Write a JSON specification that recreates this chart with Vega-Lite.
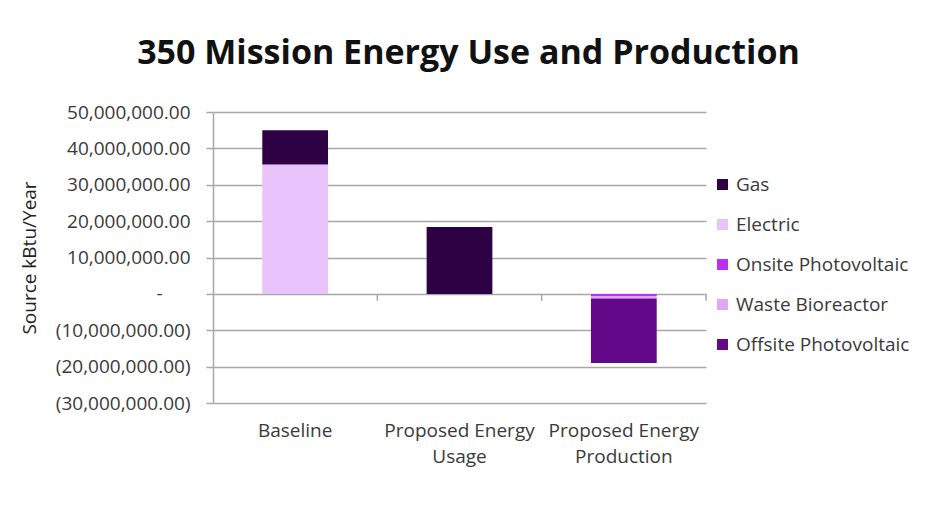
{
  "$schema": "https://vega.github.io/schema/vega-lite/v6.json",
  "width": 493,
  "height": 291,
  "autosize": {"type": "none"},
  "padding": {"left": 213, "top": 112, "right": 225, "bottom": 113},
  "background": "white",
  "config": {"view": {"stroke": null}},
  "title": {
    "text": "350 Mission Energy Use and Production",
    "font": "Open Sans",
    "fontSize": 34,
    "fontWeight": "bold",
    "color": "#111111",
    "anchor": "middle",
    "dx": 9,
    "dy": 43,
    "offset": 41,
    "baseline": "bottom"
  },
  "datasets": {
    "energy": [
      {"scenario": "Baseline", "source": "Electric", "kbtu": 35600000},
      {"scenario": "Baseline", "source": "Gas", "kbtu": 9400000},
      {"scenario": "Proposed Energy Usage", "source": "Gas", "kbtu": 18400000},
      {"scenario": "Proposed Energy Production", "source": "Onsite Photovoltaic", "kbtu": -600000},
      {"scenario": "Proposed Energy Production", "source": "Waste Bioreactor", "kbtu": -700000},
      {"scenario": "Proposed Energy Production", "source": "Offsite Photovoltaic", "kbtu": -17700000}
    ],
    "scenarios": [
      {"scenario": "Baseline"},
      {"scenario": "Proposed Energy Usage"},
      {"scenario": "Proposed Energy Production"}
    ]
  },
  "layer": [
    {
      "data": {"name": "energy"},
      "mark": {"type": "bar"},
      "encoding": {
        "x": {
          "field": "scenario",
          "type": "nominal",
          "sort": null,
          "scale": {"paddingInner": 0.6, "paddingOuter": 0.3},
          "axis": {
            "title": null,
            "labelAngle": 0,
            "domain": false,
            "ticks": false,
            "grid": false,
            "labelPadding": 18,
            "labelFont": "Open Sans",
            "labelFontSize": 19,
            "labelColor": "#3a3a3a",
            "labelLineHeight": 26,
            "labelLimit": 0,
            "labelExpr": "datum.label == 'Baseline' ? datum.label : ['Proposed Energy', slice(datum.label, 16)]"
          }
        },
        "y": {
          "field": "kbtu",
          "type": "quantitative",
          "stack": "zero",
          "scale": {"domain": [-30000000, 50000000], "nice": false},
          "axis": {
            "title": "Source kBtu/Year",
            "values": [-30000000, -20000000, -10000000, 0, 10000000, 20000000, 30000000, 40000000, 50000000],
            "tickCount": 20,
            "labelExpr": "datum.value == 0 ? '-\u2800\u2800' : datum.value < 0 ? '(' + format(-datum.value, ',.2f') + ')' : format(datum.value, ',.2f')",
            "labelOverlap": false,
            "grid": true,
            "gridColor": "#a8a8a8",
            "gridWidth": 1.5,
            "domainColor": "#a8a8a8",
            "domainWidth": 1.5,
            "tickColor": "#a8a8a8",
            "tickSize": 7,
            "tickWidth": 1.5,
            "labelPadding": 16,
            "labelFont": "Open Sans",
            "labelFontSize": 19,
            "labelColor": "#3a3a3a",
            "titleFont": "Open Sans",
            "titleFontSize": 19,
            "titleFontWeight": "normal",
            "titleColor": "#222222",
            "titleX": -184,
            "titleY": 145.5,
            "titleAngle": -90,
            "titleAlign": "center",
            "titleBaseline": "middle"
          }
        },
        "color": {
          "field": "source",
          "type": "nominal",
          "scale": {
            "domain": ["Gas", "Electric", "Onsite Photovoltaic", "Waste Bioreactor", "Offsite Photovoltaic"],
            "range": ["#2e0044", "#e8c3fc", "#bb30f2", "#e2a6f8", "#620888"]
          },
          "legend": {
            "title": null,
            "orient": "none",
            "legendX": 500,
            "legendY": 63,
            "symbolType": "square",
            "symbolSize": 121,
            "symbolStrokeWidth": 0,
            "labelFont": "Open Sans",
            "labelFontSize": 19,
            "labelColor": "#3a3a3a",
            "rowPadding": 20,
            "labelOffset": 4,
            "padding": 0,
            "labelLimit": 0
          }
        },
        "order": {"field": "kbtu", "sort": "descending"}
      }
    },
    {
      "data": {"name": "scenarios"},
      "mark": {"type": "rule", "color": "#a8a8a8", "strokeWidth": 1.5},
      "encoding": {
        "x": {"field": "scenario", "type": "nominal", "sort": null, "bandPosition": 1.75},
        "y": {"datum": 0, "type": "quantitative"},
        "y2": {"datum": -1900000}
      }
    }
  ]
}
